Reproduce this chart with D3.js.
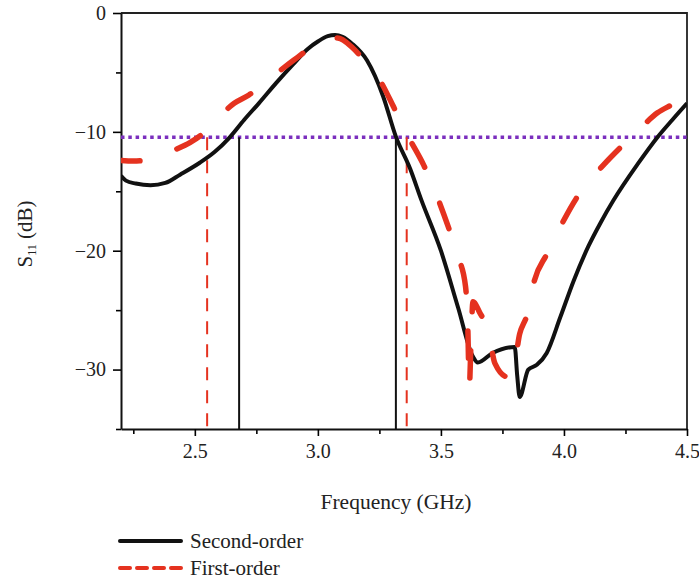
<!DOCTYPE html>
<html>
<head>
<meta charset="utf-8">
<script src="https://cdn.jsdelivr.net/npm/d3@7"></script>
<style>
  body { margin: 0; background: #fff; }
  svg, svg text { font-family: "Liberation Serif", "DejaVu Serif", serif; }
</style>
</head>
<body>
<svg id="chart" width="699" height="580"></svg>
<script>
// Second-order filter response (solid black)
const freqSecond = [2.20, 2.22, 2.26, 2.32, 2.38, 2.44, 2.52, 2.58, 2.64, 2.70, 2.76, 2.83, 2.90, 2.96, 3.00, 3.04, 3.07, 3.10, 3.14, 3.20, 3.265, 3.317, 3.375, 3.42, 3.50, 3.57, 3.63, 3.65, 3.71, 3.80, 3.81, 3.82, 3.855, 3.89, 3.93, 3.985, 4.04, 4.10, 4.15, 4.20, 4.30, 4.38, 4.44, 4.50];
const s11Second = [-13.7, -14.1, -14.35, -14.5, -14.3, -13.6, -12.6, -11.7, -10.5, -9.0, -7.6, -5.9, -4.3, -3.0, -2.4, -1.95, -1.85, -2.0, -2.6, -4.0, -7.0, -10.4, -13.1, -15.7, -20.0, -24.8, -28.9, -29.4, -28.6, -28.1, -30.5, -32.3, -30.0, -29.6, -28.6, -25.6, -22.5, -19.6, -17.6, -15.8, -12.7, -10.45, -9.0, -7.6];

// First-order filter response (dashed red)
const freqFirst = [2.20, 2.25, 2.30, 2.35, 2.42, 2.48, 2.53, 2.60, 2.66, 2.72, 2.80, 2.90, 2.98, 3.04, 3.08, 3.14, 3.20, 3.25, 3.31, 3.37, 3.43, 3.48, 3.53, 3.57, 3.60, 3.61, 3.615, 3.625, 3.63, 3.66, 3.69, 3.72, 3.77, 3.79, 3.82, 3.85, 3.88, 3.93, 3.99, 4.05, 4.10, 4.16, 4.26, 4.32, 4.38, 4.44, 4.50];
const s11First = [-12.4, -12.45, -12.4, -12.1, -11.5, -10.9, -10.2, -8.7, -7.6, -6.9, -5.6, -4.0, -2.8, -2.1, -2.1, -2.9, -4.3, -5.6, -8.0, -10.5, -12.8, -15.2, -18.0, -20.5, -23.0, -27.0, -31.5, -26.0, -24.3, -25.3, -26.5, -29.5, -30.6, -30.5, -27.0, -25.4, -22.5, -20.3, -17.8, -15.6, -14.2, -12.8, -10.7, -9.5, -8.4, -7.7, -7.0];

// reference level and band edges
const threshold = -10.45;
const edgesSecond = [2.68, 3.317];
const edgesFirst = [2.55, 3.361];

const xTicks = [2.5, 3.0, 3.5, 4.0, 4.5];
const xMinorTicks = [2.25, 2.75, 3.25, 3.75, 4.25];
const yTicks = [0, -10, -20, -30];
const yMinorTicks = [-5, -15, -25, -35];

const legendLabels = ['Second-order', 'First-order'];

const FONT = '"Liberation Serif", "DejaVu Serif", serif';
const width = 699, height = 580;
const margin = { top: 13, right: 12, bottom: 151, left: 121 };
const innerW = width - margin.left - margin.right;
const innerH = height - margin.top - margin.bottom;

const svg = d3.select('#chart');

const x = d3.scaleLinear().domain([2.2, 4.5]).range([margin.left, margin.left + innerW]);
const y = d3.scaleLinear().domain([-35, 0]).range([margin.top + innerH, margin.top]);

svg.append('defs').append('clipPath').attr('id', 'plotClip')
  .append('rect')
  .attr('x', margin.left).attr('y', margin.top)
  .attr('width', innerW).attr('height', innerH);

// frame (top and right)
svg.append('path')
  .attr('d', `M${margin.left},${margin.top}H${margin.left + innerW}V${margin.top + innerH}`)
  .attr('fill', 'none')
  .attr('stroke', '#222')
  .attr('stroke-width', 1.8);

// minor ticks
svg.append('g')
  .attr('transform', `translate(0,${margin.top + innerH})`)
  .call(d3.axisBottom(x).tickValues(xMinorTicks).tickSize(5).tickFormat(''))
  .call(g => g.select('.domain').remove())
  .selectAll('line').attr('stroke-width', 1.6);

svg.append('g')
  .attr('transform', `translate(${margin.left},0)`)
  .call(d3.axisLeft(y).tickValues(yMinorTicks).tickSize(5).tickFormat(''))
  .call(g => g.select('.domain').remove())
  .selectAll('line').attr('stroke-width', 1.6);

// major axes
const xAxis = svg.append('g')
  .attr('transform', `translate(0,${margin.top + innerH})`)
  .call(d3.axisBottom(x).tickValues(xTicks).tickSize(7).tickSizeOuter(0).tickPadding(8)
    .tickFormat(d3.format('.1f')));

const yAxis = svg.append('g')
  .attr('transform', `translate(${margin.left},0)`)
  .call(d3.axisLeft(y).tickValues(yTicks).tickSize(8).tickSizeOuter(0).tickPadding(7));

[xAxis, yAxis].forEach(g => {
  g.attr('font-family', FONT);
  g.select('.domain').attr('stroke-width', 2).attr('stroke', '#111');
  g.selectAll('.tick line').attr('stroke-width', 1.6);
  g.selectAll('text')
    .attr('font-family', FONT)
    .attr('font-size', 20)
    .attr('fill', '#222');
});

// axis titles
svg.append('text')
  .attr('x', 396).attr('y', 509)
  .attr('text-anchor', 'middle')
  .attr('font-family', FONT)
  .attr('font-size', 21.5)
  .attr('fill', '#222')
  .text('Frequency (GHz)');

const yLabel = svg.append('text')
  .attr('transform', 'translate(32,234) rotate(-90)')
  .attr('text-anchor', 'middle')
  .attr('font-family', FONT)
  .attr('font-size', 21)
  .attr('fill', '#222');
yLabel.append('tspan').text('S');
yLabel.append('tspan').attr('font-size', 12).attr('dy', 4).text('11');
yLabel.append('tspan').attr('dy', -4).text(' (dB)');

const plot = svg.append('g').attr('clip-path', 'url(#plotClip)');

// threshold line
plot.append('line')
  .attr('x1', x(2.2)).attr('x2', x(4.5))
  .attr('y1', y(threshold)).attr('y2', y(threshold))
  .attr('stroke', '#7b2fbe')
  .attr('stroke-width', 3.5)
  .attr('stroke-dasharray', '3.5,3.8');

// band edge markers
plot.selectAll('.edge2')
  .data(edgesSecond)
  .join('line')
  .attr('x1', d => x(d)).attr('x2', d => x(d))
  .attr('y1', y(threshold)).attr('y2', y(-35))
  .attr('stroke', '#111')
  .attr('stroke-width', 2);

plot.selectAll('.edge1')
  .data(edgesFirst)
  .join('line')
  .attr('x1', d => x(d)).attr('x2', d => x(d))
  .attr('y1', y(threshold)).attr('y2', y(-35))
  .attr('stroke', '#e5321f')
  .attr('stroke-width', 2)
  .attr('stroke-dasharray', '13,10');

const line = d3.line()
  .x(d => x(d[0]))
  .y(d => y(d[1]))
  .curve(d3.curveMonotoneX);

plot.append('path')
  .datum(d3.zip(freqSecond, s11Second))
  .attr('d', line)
  .attr('fill', 'none')
  .attr('stroke', '#111')
  .attr('stroke-width', 4)
  .attr('stroke-linejoin', 'round');

plot.append('path')
  .datum(d3.zip(freqFirst, s11First))
  .attr('d', line)
  .attr('fill', 'none')
  .attr('stroke', '#e5321f')
  .attr('stroke-width', 5.5)
  .attr('stroke-linecap', 'round')
  .attr('stroke-dasharray', '27,39')
  .attr('stroke-dashoffset', 8);

// legend
const legend = svg.append('g');
const legendRows = [
  { label: legendLabels[0], color: '#111', dash: null, y: 541 },
  { label: legendLabels[1], color: '#e5321f', dash: '10,7', y: 568 }
];
legendRows.forEach(r => {
  legend.append('line')
    .attr('x1', 120).attr('x2', 181)
    .attr('y1', r.y).attr('y2', r.y)
    .attr('stroke', r.color)
    .attr('stroke-width', 4)
    .attr('stroke-linecap', 'round')
    .attr('stroke-dasharray', r.dash);
  legend.append('text')
    .attr('x', 190).attr('y', r.y)
    .attr('dy', '0.33em')
    .attr('font-family', FONT)
    .attr('font-size', 21)
    .attr('fill', '#222')
    .text(r.label);
});
</script>
</body>
</html>
